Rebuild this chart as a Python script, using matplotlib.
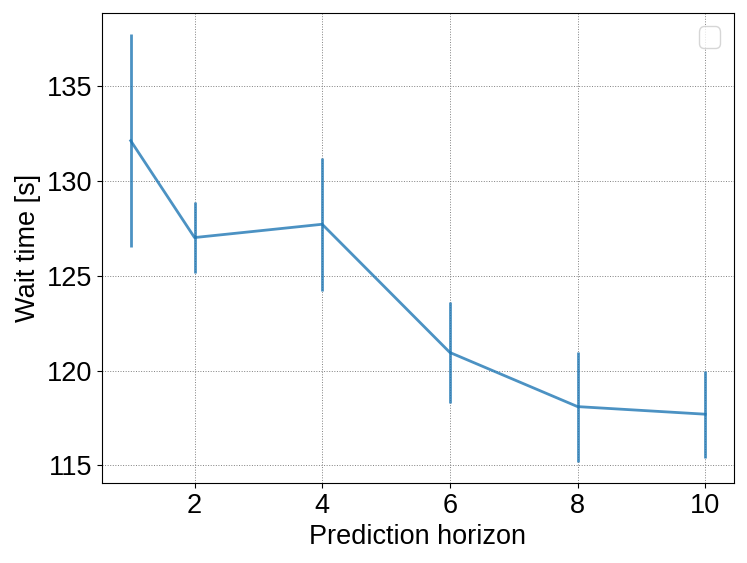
import matplotlib
matplotlib.use('Agg')
import matplotlib.pyplot as plt

horizon = [1, 2, 4, 6, 8, 10]
wait_time = [132.1, 127.0, 127.7, 120.95, 118.1, 117.7]
wait_err = [5.6, 1.85, 3.5, 2.65, 2.9, 2.3]

plt.rcParams['font.family'] = ['Liberation Sans', 'DejaVu Sans']
plt.rcParams['font.size'] = 19.5

fig = plt.figure(figsize=(7.47, 5.63), dpi=100)
ax = fig.add_axes([0.1365, 0.142, 0.846, 0.835])
ax.errorbar(horizon, wait_time, yerr=wait_err, color='tab:blue', alpha=0.8, linewidth=2)
ax.grid(True, linestyle=':', color='grey', linewidth=0.7)
ax.set_xticks([2, 4, 6, 8, 10])
ax.set_yticks([115, 120, 125, 130, 135])
ax.set_xlabel('Prediction horizon')
ax.set_ylabel('Wait time [s]')
ax.legend(loc='upper right')
fig.savefig('out.png')
